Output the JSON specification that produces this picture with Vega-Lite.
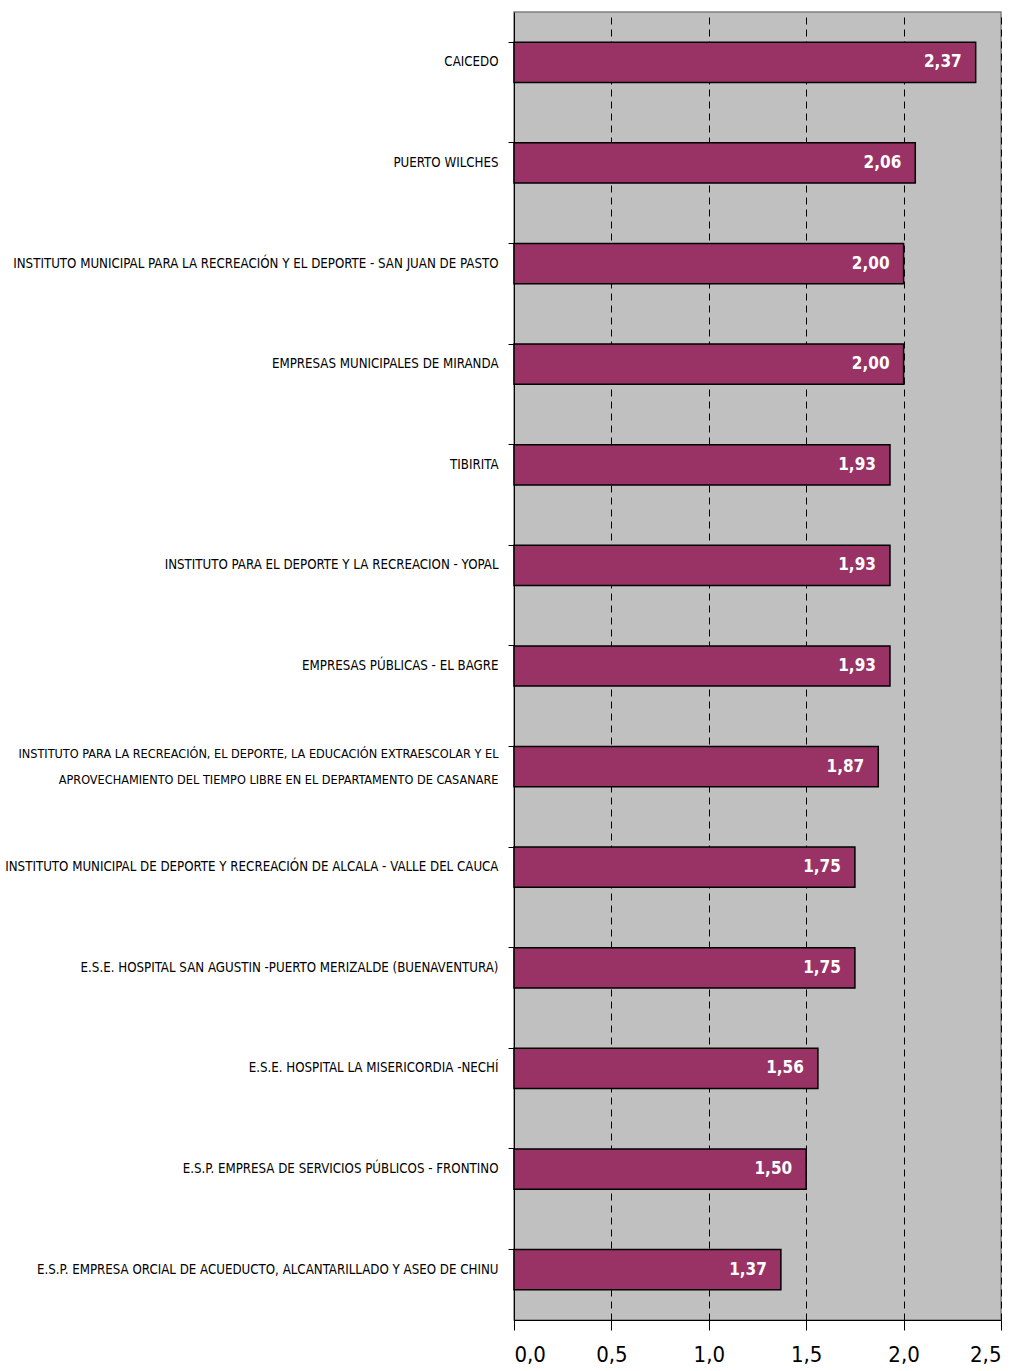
{
  "$schema": "https://vega.github.io/schema/vega-lite/v6.json",
  "width": 487,
  "height": 1308,
  "autosize": {"type": "none"},
  "padding": {"left": 514, "top": 12, "right": 17, "bottom": 51},
  "background": "white",
  "config": {
    "locale": {"number": {"decimal": ",", "thousands": ".", "grouping": [3], "currency": ["", ""]}},
    "view": {"fill": "#C0C0C0", "stroke": "#808080", "strokeWidth": 1.5},
    "font": "'DejaVu Sans Condensed', 'Liberation Sans Narrow', 'Roboto Condensed', Roboto"
  },
  "data": {
    "values": [
      {"entidad": "CAICEDO", "valor": 2.37},
      {"entidad": "PUERTO WILCHES", "valor": 2.06},
      {"entidad": "INSTITUTO MUNICIPAL PARA LA RECREACIÓN Y EL DEPORTE - SAN JUAN DE PASTO", "valor": 2.0},
      {"entidad": "EMPRESAS MUNICIPALES DE MIRANDA", "valor": 2.0},
      {"entidad": "TIBIRITA", "valor": 1.93},
      {"entidad": "INSTITUTO PARA EL DEPORTE Y LA RECREACION - YOPAL", "valor": 1.93},
      {"entidad": "EMPRESAS PÚBLICAS - EL BAGRE", "valor": 1.93},
      {"entidad": "INSTITUTO PARA LA RECREACIÓN, EL DEPORTE, LA EDUCACIÓN EXTRAESCOLAR Y EL|APROVECHAMIENTO DEL TIEMPO LIBRE EN EL DEPARTAMENTO DE CASANARE", "valor": 1.87},
      {"entidad": "INSTITUTO MUNICIPAL DE DEPORTE Y RECREACIÓN DE ALCALA - VALLE DEL CAUCA", "valor": 1.75},
      {"entidad": "E.S.E. HOSPITAL SAN AGUSTIN -PUERTO MERIZALDE (BUENAVENTURA)", "valor": 1.75},
      {"entidad": "E.S.E. HOSPITAL LA MISERICORDIA -NECHÍ", "valor": 1.56},
      {"entidad": "E.S.P. EMPRESA DE SERVICIOS PÚBLICOS - FRONTINO", "valor": 1.5},
      {"entidad": "E.S.P. EMPRESA ORCIAL DE ACUEDUCTO, ALCANTARILLADO Y ASEO DE CHINU", "valor": 1.37}
    ]
  },
  "encoding": {
    "y": {
      "field": "entidad",
      "type": "nominal",
      "sort": null,
      "scale": {"paddingInner": 0.6, "paddingOuter": 0.3},
      "axis": {
        "title": null,
        "labelExpr": "split(datum.label, '|')",
        "labelFontSize": {"condition": {"test": "indexof(datum.value, '|') >= 0", "value": 12.6}, "value": 13.2},
        "labelColor": "black",
        "labelPadding": 10,
        "labelLimit": 0,
        "labelLineHeight": 26,
        "labelOffset": {"condition": {"test": "indexof(datum.value, '|') >= 0", "value": -13}, "value": 0},
        "domainColor": "black",
        "tickColor": "black",
        "tickSize": 6,
        "bandPosition": 0,
        "grid": false
      }
    },
    "x": {
      "field": "valor",
      "type": "quantitative",
      "scale": {"domain": [0, 2.5], "nice": false},
      "axis": {
        "title": null,
        "values": [0, 0.5, 1, 1.5, 2, 2.5],
        "format": ".1f",
        "labelFontSize": 22,
        "labelColor": "black",
        "labelPadding": 14,
        "domainColor": "black",
        "tickColor": "black",
        "tickSize": 10,
        "grid": true,
        "gridColor": "black",
        "gridDash": [7, 5],
        "gridWidth": 1
      }
    }
  },
  "layer": [
    {
      "mark": {"type": "bar", "color": "#993366", "stroke": "black", "strokeWidth": 1.5}
    },
    {
      "mark": {"type": "text", "align": "right", "baseline": "middle", "dx": -14, "color": "white", "fontWeight": "bold", "fontSize": 17},
      "encoding": {"text": {"field": "valor", "type": "quantitative", "format": ".2f"}}
    }
  ]
}
